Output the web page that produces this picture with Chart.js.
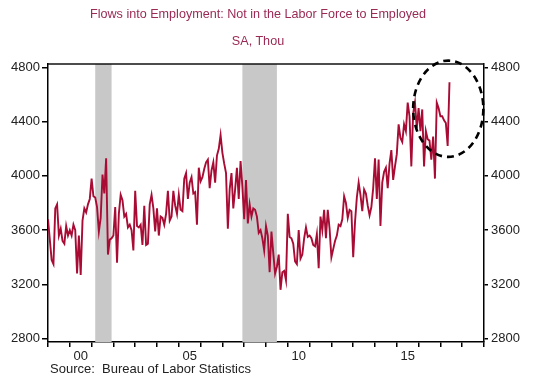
<!DOCTYPE html>
<html><head><meta charset="utf-8">
<script src="https://cdn.jsdelivr.net/npm/chart.js@4"></script>
<style>
body{margin:0;background:#fff;}
#wrap{position:relative;width:539px;height:380px;font-family:"Liberation Sans",Arial,sans-serif;}
#c{display:block;}
.t{position:absolute;left:0;width:516px;text-align:center;color:#9a2a55;font-size:12.6px;line-height:14px;}
#src{position:absolute;left:50px;top:362px;font-size:13px;color:#222;line-height:14px;white-space:pre;}
</style></head>
<body><div id="wrap">
<canvas id="c" width="539" height="380"></canvas>
<div class="t" style="top:7px">Flows into Employment: Not in the Labor Force to Employed</div>
<div class="t" style="top:34px">SA, Thou</div>
<div id="src">Source:  Bureau of Labor Statistics</div>
</div>
<script>
// Monthly series, starting January 1999 (thousands, SA)
const startYear = 1999;
const values = [
3680,3530,3380,3350,3760,3790,3560,3610,3520,3500,3630,3560,
3600,3560,3640,3600,3280,3560,3270,3670,3760,3730,3790,3830,
3980,3850,3840,3770,3590,3690,4010,3870,4130,3420,3530,3540,
3560,3770,3360,3720,3860,3820,3700,3720,3620,3640,3600,3450,
3890,3630,3620,3640,3490,3780,3490,3500,3790,3860,3760,3590,
3760,3560,3700,3690,3640,3720,3890,3670,3700,3890,3780,3720,
3860,3750,3740,3980,4020,3830,3950,3990,3870,3880,3640,4060,
3960,3990,4050,4100,4120,3910,4040,4100,3950,4150,4200,4300,
4170,4090,4020,3610,3900,4020,3760,3900,4060,3830,4110,3920,
3680,3970,3650,3790,3700,3760,3750,3700,3580,3600,3540,3450,
3630,3560,3290,3590,3430,3280,3330,3420,3160,3290,3300,3230,
3720,3550,3540,3500,3370,3350,3600,3390,3420,3540,3620,3550,
3560,3540,3490,3480,3570,3320,3700,3600,3750,3540,3750,3610,
3400,3460,3520,3560,3640,3630,3680,3850,3800,3690,3750,3740,
3400,3660,3840,3950,3860,3740,3900,3870,3780,3710,3770,3910,
4130,3830,4120,3630,3950,4030,4060,3910,4090,4190,3970,4070,
4160,4380,4280,4250,4380,4330,4540,4440,4070,4460,4540,4350,
4500,4330,4490,4070,4330,4270,4260,4120,4290,3980,4540,4500,
4440,4440,4410,4390,4220,4690
];
const yTicks = [2800, 3200, 3600, 4000, 4400, 4800];
const xTickYears = [1999,2000,2001,2002,2003,2004,2005,2006,2007,2008,2009,2010,2011,2012,2013,2014,2015,2016,2017,2018,2019];
const xLabelYears = [2000, 2005, 2010, 2015];
// recessions: [startYear, startMonth, endYear, endMonth]
const recessions = [[2001, 3, 2001, 11], [2007, 12, 2009, 6]];
// highlight ellipse in data units
const highlight = {x: 2017.36, y: 4495, rx: 1.61, ry: 355};

const FONT = {family: '"Liberation Sans", Arial, sans-serif', size: 13};
const TXT = '#222';

const recessionPlugin = {
  id: 'recess',
  beforeDatasetsDraw(chart) {
    const {ctx, chartArea: a, scales: {x}} = chart;
    ctx.save();
    ctx.fillStyle = '#c8c8c8';
    recessions.forEach(r => {
      const x0 = x.getPixelForValue(r[0] + (r[1] - 1) / 12);
      const x1 = x.getPixelForValue(r[2] + r[3] / 12);
      ctx.fillRect(x0, a.top, x1 - x0, a.bottom - a.top);
    });
    ctx.restore();
  }
};
const framePlugin = {
  id: 'frame',
  afterDraw(chart) {
    const {ctx, chartArea: a, scales: {x, y}} = chart;
    ctx.save();
    ctx.strokeStyle = '#111';
    ctx.lineWidth = 1.5;
    ctx.beginPath();
    ctx.moveTo(a.left, a.top); ctx.lineTo(a.right, a.top);
    ctx.stroke();
    // highlight ellipse
    const cx = x.getPixelForValue(highlight.x);
    const cy = y.getPixelForValue(highlight.y);
    const rx = x.getPixelForValue(highlight.x + highlight.rx) - cx;
    const ry = cy - y.getPixelForValue(highlight.y + highlight.ry);
    ctx.strokeStyle = '#000';
    ctx.lineWidth = 2.6;
    ctx.setLineDash([7, 5]);
    ctx.beginPath();
    ctx.ellipse(cx, cy, rx, ry, 0, 0, Math.PI * 2);
    ctx.stroke();
    ctx.restore();
  }
};

const yAxis = (pos, width, tickLen, pad) => ({
  position: pos,
  min: 2775, max: 4825,
  afterBuildTicks: s => { s.ticks = yTicks.map(v => ({value: v})); },
  afterFit: s => { s.width = width; },
  grid: {drawOnChartArea: false, drawTicks: true, tickLength: tickLen, tickColor: '#000', lineWidth: 1.5},
  border: {display: true, color: '#000', width: 1.5},
  ticks: {font: FONT, color: TXT, padding: pad, autoSkip: false, callback: v => String(v)}
});

new Chart(document.getElementById('c'), {
  type: 'line',
  data: {
    datasets: [{
      data: values.map((v, i) => ({x: startYear + i / 12, y: v})),
      borderColor: '#a80c35',
      borderWidth: 1.9,
      pointRadius: 0,
      tension: 0,
      fill: false,
      yAxisID: 'y'
    }]
  },
  options: {
    responsive: false,
    animation: false,
    devicePixelRatio: 1,
    layout: {padding: {top: 64, left: 0, right: 0, bottom: 0}},
    plugins: {legend: {display: false}, tooltip: {enabled: false}},
    scales: {
      x: {
        type: 'linear',
        min: 1999, max: 2019,
        afterBuildTicks: s => {
          const t = xTickYears.map(v => ({value: v})).concat(xLabelYears.map(v => ({value: v + 0.5})));
          t.sort((a, b) => a.value - b.value);
          s.ticks = t;
        },
        afterFit: s => { s.height = 38; },
        grid: {
          drawOnChartArea: false, drawTicks: true, tickLength: 5, lineWidth: 1.5,
          tickColor: c => (c.tick && Number.isInteger(c.tick.value)) ? '#000' : 'rgba(0,0,0,0)'
        },
        border: {display: true, color: '#000', width: 1.5},
        ticks: {
          font: FONT, color: TXT, padding: 2, autoSkip: false, maxRotation: 0,
          callback: v => Number.isInteger(v) ? '' : String(Math.floor(v) % 100).padStart(2, '0')
        }
      },
      y: yAxis('left', 48, 6, 2),
      y2: yAxis('right', 55, 4, 3)
    }
  },
  plugins: [recessionPlugin, framePlugin]
});
</script>
</body></html>
